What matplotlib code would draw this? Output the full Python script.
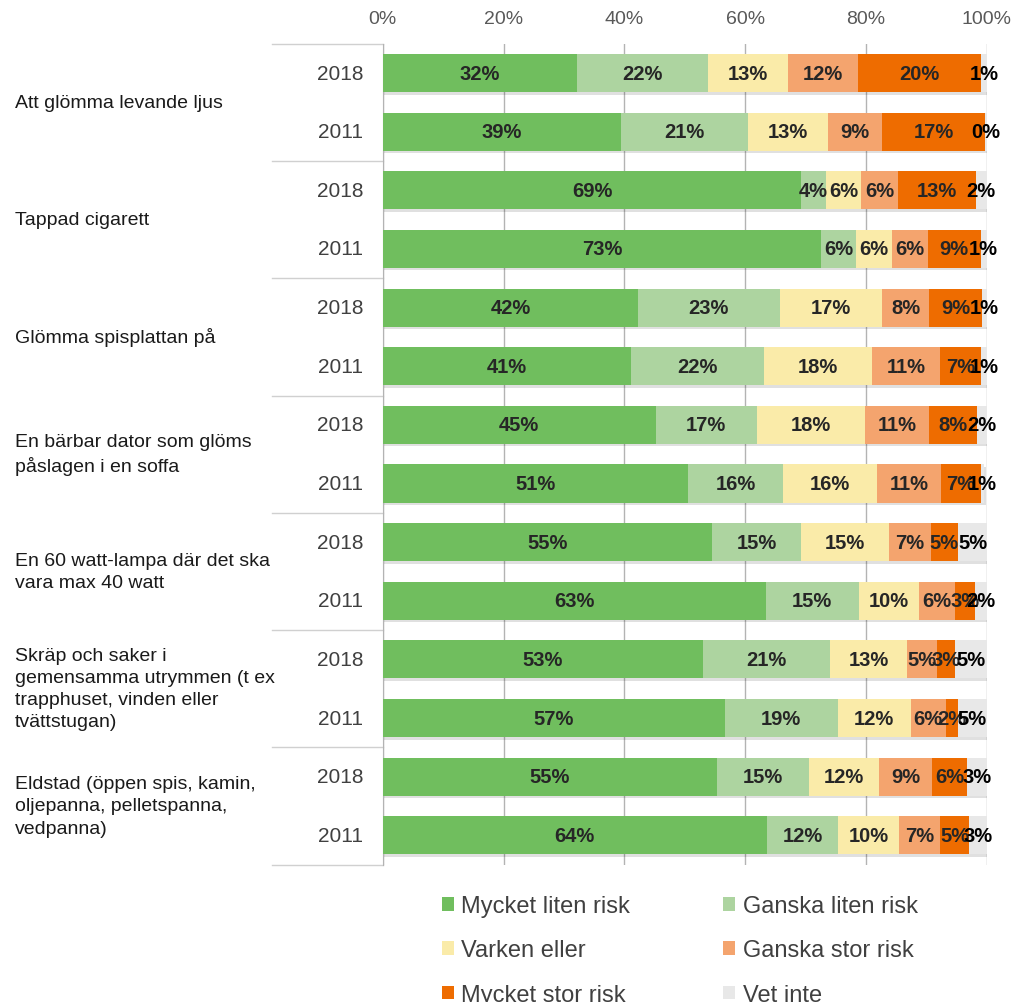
import matplotlib
matplotlib.use('Agg')
import matplotlib.pyplot as plt
import matplotlib.patheffects as pe
import matplotlib.transforms as mtransforms
from matplotlib.patches import Patch
import numpy as np

plt.rcParams['font.family'] = ['Liberation Sans', 'DejaVu Sans']

categories = [
    "Att glömma levande ljus",
    "Tappad cigarett",
    "Glömma spisplattan på",
    "En bärbar dator som glöms\npåslagen i en soffa",
    "En 60 watt-lampa där det ska\nvara max 40 watt",
    "Skräp och saker i\ngemensamma utrymmen (t ex\ntrapphuset, vinden eller\ntvättstugan)",
    "Eldstad (öppen spis, kamin,\noljepanna, pelletspanna,\nvedpanna)",
]
years = ["2018", "2011"]
series = ["Mycket liten risk", "Ganska liten risk", "Varken eller",
          "Ganska stor risk", "Mycket stor risk", "Vet inte"]
colors = ["#70BE5E", "#ADD4A0", "#FAEBA9", "#F4A46E", "#EE6C00", "#E8E8E8"]
x_ticks = [0, 20, 40, 60, 80, 100]

# rows in order: category 1 (2018, 2011), category 2 (2018, 2011), ...
mycket_liten = [32.1, 39.4, 69.3, 72.6, 42.3, 41.1, 45.2, 50.6, 54.6, 63.4, 53.0, 56.6, 55.3, 63.6]
ganska_liten = [21.8, 21.0, 4.1, 5.8, 23.4, 22.1, 16.7, 15.6, 14.6, 15.4, 21.1, 18.7, 15.3, 11.8]
varken_eller = [13.2, 13.3, 5.8, 5.9, 16.9, 17.8, 17.9, 15.6, 14.6, 10.0, 12.7, 12.1, 11.6, 10.0]
ganska_stor = [11.6, 9.0, 6.1, 5.9, 7.9, 11.2, 10.7, 10.6, 6.9, 6.0, 5.0, 5.8, 8.8, 6.9]
mycket_stor = [20.4, 17.1, 12.9, 8.8, 8.8, 6.9, 7.9, 6.6, 4.6, 3.3, 3.0, 2.0, 5.8, 4.8]
vet_inte = [0.9, 0.2, 1.8, 1.0, 0.7, 0.9, 1.6, 0.6, 4.7, 1.9, 5.2, 4.8, 3.2, 2.9]

data = [mycket_liten, ganska_liten, varken_eller, ganska_stor, mycket_stor, vet_inte]

W, H = 1014, 1003
fig = plt.figure(figsize=(W / 100, H / 100), dpi=100)
ax_left, ax_right, ax_top, ax_bot = 382.7, 986.7, 44.7, 865.6
ax = fig.add_axes([ax_left / W, 1 - ax_bot / H, (ax_right - ax_left) / W, (ax_bot - ax_top) / H])

n_rows = len(mycket_liten)
ypos = np.arange(n_rows)
left = np.zeros(n_rows)
shadow = [pe.SimplePatchShadow(offset=(1.0, -1.8), shadow_rgbFace='#000000', alpha=0.12), pe.Normal()]
for vals, col, name in zip(data, colors, series):
    vals = np.array(vals)
    cont = ax.barh(ypos, vals, left=left, height=0.65, color=col, label=name, zorder=3)
    for p in cont.patches:
        p.set_path_effects(shadow)
    tcol = '#000000' if name == "Vet inte" else '#262626'
    ax.bar_label(cont, labels=[f"{v:.0f}%" for v in vals], label_type='center',
                 fontsize=14.5, fontweight='bold', color=tcol, zorder=5)
    left = left + vals

ax.set_xlim(0, 100)
ax.set_ylim(n_rows - 0.5, -0.5)
ax.set_xticks(x_ticks)
ax.set_xticklabels([f"{t}%" for t in x_ticks])
ax.xaxis.tick_top()
ax.tick_params(axis='x', length=0, pad=12, labelsize=14, labelcolor='#595959')
ax.set_yticks([])
for s in ['top', 'right', 'bottom']:
    ax.spines[s].set_visible(False)
ax.spines['left'].set_color('#b3b3b3')
ax.grid(axis='x', color='#b3b3b3', linewidth=1, zorder=0)
ax.set_axisbelow(True)

# table lines and labels on the left
trans = mtransforms.blended_transform_factory(ax.transAxes, ax.transData)
x_line0 = (271.7 - ax_left) / (ax_right - ax_left)
for k in range(len(categories) + 1):
    yb = 2 * k - 0.5
    ax.plot([x_line0, 0], [yb, yb], transform=trans, color='#d0d0d0', lw=1, clip_on=False)

x_year = (363 - ax_left) / (ax_right - ax_left)
for i in range(n_rows):
    ax.text(x_year, ypos[i], years[i % 2], transform=trans, ha='right', va='center',
            fontsize=15, color='#404040')

x_cat = (15 - ax_left) / (ax_right - ax_left)
for k, cat in enumerate(categories):
    ax.text(x_cat, 2 * k + 0.5, cat, transform=trans, ha='left', va='center',
            fontsize=14, color='#1a1a1a', linespacing=1.4, multialignment='left')

# legend (row-wise order in 2 columns)
handles = [Patch(facecolor=c, edgecolor='none') for c in colors]
order = [0, 2, 4, 1, 3, 5]
fig.legend([handles[i] for i in order], [series[i] for i in order], ncol=2,
           loc='upper left', bbox_to_anchor=(441.7 / W, 1 - 896 / H), frameon=False,
           fontsize=17, handlelength=0.52, handleheight=0.52, handletextpad=0.3,
           columnspacing=3.95, labelspacing=0.95, borderpad=0, borderaxespad=0,
           labelcolor='#404040')

fig.savefig('out.png', dpi=100)
